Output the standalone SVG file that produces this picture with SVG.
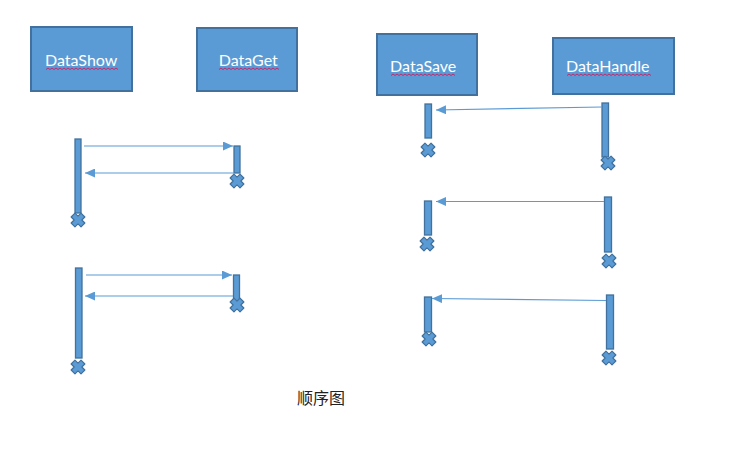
<svg xmlns="http://www.w3.org/2000/svg" width="741" height="449" viewBox="0 0 741 449">
<style>
.box{fill:#5B9BD5;stroke:#41719C;stroke-width:2}
.bar{fill:#5B9BD5;stroke:#41719C;stroke-width:1.3}
.lbl{font-family:Lato,"Liberation Sans",sans-serif;font-size:16px;fill:#ffffff;text-anchor:middle}
.msg{stroke:#5B9BD5;stroke-width:1.2;fill:none;marker-end:url(#ah)}
.xm{fill:#5B9BD5;stroke:#41719C;stroke-width:1.2;stroke-linejoin:round}
.sq{fill:none;stroke:#C8286A;stroke-width:1}
.cap{font-family:"Liberation Sans","Noto Sans CJK SC",sans-serif;font-size:16px;fill:#222222}
</style>
<defs>
<marker id="ah" markerWidth="11" markerHeight="9" refX="10" refY="4.5" orient="auto" markerUnits="userSpaceOnUse">
<path d="M0,0 L10,4.5 L0,9 Z" fill="#5B9BD5"/>
</marker>
<path id="x" d="M-2.7,-7 L2.7,-7 L2.7,-2.7 L7,-2.7 L7,2.7 L2.7,2.7 L2.7,7 L-2.7,7 L-2.7,2.7 L-7,2.7 L-7,-2.7 L-2.7,-2.7 Z" transform="rotate(45)"/>
</defs>
<rect width="741" height="449" fill="#ffffff"/>

<g id="DataShow">
<rect class="box" x="31" y="27" width="101" height="64"/>
<text class="lbl" x="81.2" y="65.7">DataShow</text>
<path class="sq" d="M46,69.5 l2,-1.5 l2,1.5 l2,-1.5 l2,1.5 l2,-1.5 l2,1.5 l2,-1.5 l2,1.5 l2,-1.5 l2,1.5 l2,-1.5 l2,1.5 l2,-1.5 l2,1.5 l2,-1.5 l2,1.5 l2,-1.5 l2,1.5 l2,-1.5 l2,1.5 l2,-1.5 l2,1.5 l2,-1.5 l2,1.5 l2,-1.5 l2,1.5 l2,-1.5 l2,1.5 l2,-1.5 l2,1.5 l2,-1.5 l2,1.5 l2,-1.5 l2,1.5 l2,-1.5 l2,1.5"/>
</g>
<g id="DataGet">
<rect class="box" x="197" y="28" width="100" height="63"/>
<text class="lbl" x="248.3" y="65.7">DataGet</text>
<path class="sq" d="M219,69.5 l2,-1.5 l2,1.5 l2,-1.5 l2,1.5 l2,-1.5 l2,1.5 l2,-1.5 l2,1.5 l2,-1.5 l2,1.5 l2,-1.5 l2,1.5 l2,-1.5 l2,1.5 l2,-1.5 l2,1.5 l2,-1.5 l2,1.5 l2,-1.5 l2,1.5 l2,-1.5 l2,1.5 l2,-1.5 l2,1.5 l2,-1.5 l2,1.5 l2,-1.5 l2,1.5 l2,-1.5 l2,1.5"/>
</g>
<g id="DataSave">
<rect class="box" x="377" y="34" width="100" height="61"/>
<text class="lbl" x="423.2" y="71.7">DataSave</text>
<path class="sq" d="M391,75.5 l2,-1.5 l2,1.5 l2,-1.5 l2,1.5 l2,-1.5 l2,1.5 l2,-1.5 l2,1.5 l2,-1.5 l2,1.5 l2,-1.5 l2,1.5 l2,-1.5 l2,1.5 l2,-1.5 l2,1.5 l2,-1.5 l2,1.5 l2,-1.5 l2,1.5 l2,-1.5 l2,1.5 l2,-1.5 l2,1.5 l2,-1.5 l2,1.5 l2,-1.5 l2,1.5 l2,-1.5 l2,1.5 l2,-1.5 l2,1.5"/>
</g>
<g id="DataHandle">
<rect class="box" x="553" y="38" width="121" height="56"/>
<text class="lbl" x="607.7" y="71.7">DataHandle</text>
<path class="sq" d="M567,75.5 l2,-1.5 l2,1.5 l2,-1.5 l2,1.5 l2,-1.5 l2,1.5 l2,-1.5 l2,1.5 l2,-1.5 l2,1.5 l2,-1.5 l2,1.5 l2,-1.5 l2,1.5 l2,-1.5 l2,1.5 l2,-1.5 l2,1.5 l2,-1.5 l2,1.5 l2,-1.5 l2,1.5 l2,-1.5 l2,1.5 l2,-1.5 l2,1.5 l2,-1.5 l2,1.5 l2,-1.5 l2,1.5 l2,-1.5 l2,1.5 l2,-1.5 l2,1.5 l2,-1.5 l2,1.5 l2,-1.5 l2,1.5 l2,-1.5 l2,1.5 l2,-1.5 l2,1.5"/>
</g>

<g id="activations">
<rect class="bar" x="75" y="139" width="6" height="74"/>
<use href="#x" x="78" y="220" class="xm"/>
<rect class="bar" x="234" y="146" width="6" height="27"/>
<use href="#x" x="237" y="181" class="xm"/>

<rect class="bar" x="75.5" y="268" width="6.5" height="90"/>
<use href="#x" x="78" y="367" class="xm"/>
<rect class="bar" x="233.5" y="275" width="6" height="28"/>
<use href="#x" x="237" y="305" class="xm"/>

<rect class="bar" x="425" y="104" width="6.5" height="34"/>
<use href="#x" x="428" y="150" class="xm"/>
<rect class="bar" x="602" y="103" width="6.5" height="54"/>
<use href="#x" x="608" y="163" class="xm"/>

<rect class="bar" x="424.5" y="201" width="7" height="34"/>
<use href="#x" x="427" y="244" class="xm"/>
<rect class="bar" x="604.5" y="197" width="7" height="55"/>
<use href="#x" x="609" y="261" class="xm"/>

<rect class="bar" x="424.5" y="297" width="7" height="35"/>
<use href="#x" x="429" y="339" class="xm"/>
<rect class="bar" x="606.5" y="295" width="7" height="54"/>
<use href="#x" x="609" y="358" class="xm"/>
</g>

<g id="connectors">
<line class="msg" x1="84" y1="146" x2="233" y2="146"/>
<line class="msg" x1="234" y1="173" x2="85" y2="173"/>
<line class="msg" x1="86" y1="275" x2="232" y2="275"/>
<line class="msg" x1="233" y1="296" x2="85" y2="296"/>
<line class="msg" x1="602" y1="107" x2="436" y2="110"/>
<line class="msg" x1="604" y1="201.5" x2="436" y2="201.5"/>
<line class="msg" x1="606" y1="300.5" x2="432" y2="298.5"/>
</g>

<text class="cap" x="297" y="404">顺序图</text>
</svg>
